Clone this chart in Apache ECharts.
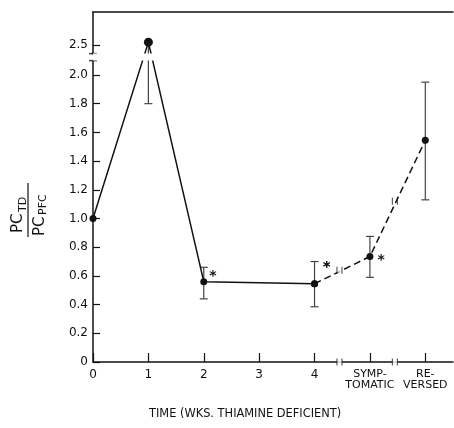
<!DOCTYPE html>
<html>
<head>
<meta charset="utf-8">
<script src="https://cdn.jsdelivr.net/npm/echarts@6/dist/echarts.min.js"></script>
<style>
html, body { margin: 0; padding: 0; background: #fff; }
#chart { width: 454px; height: 428px; }
</style>
</head>
<body>
<div id="chart"></div>
<script>
// time points, weeks thiamine deficient (5 = symptomatic, 6 = reversed)
var weeks = [0, 1, 2, 4, 5, 6];
var ratio = [1.0, 2.52, 0.56, 0.545, 0.735, 1.545];
var errLow = [null, 1.80, 0.44, 0.385, 0.59, 1.13];
var errHigh = [null, 2.52, 0.66, 0.70, 0.875, 1.95];
var starred = [false, false, true, true, true, false];

var xTickValues = [0, 1, 2, 3, 4, 5, 6];
var xTickLabels = ['0', '1', '2', '3', '4', 'SYMP-\nTOMATIC', 'RE-\nVERSED'];
var yTickValues = [0, 0.2, 0.4, 0.6, 0.8, 1.0, 1.2, 1.4, 1.6, 1.8, 2.0, 2.5];
var yBreak = [2.1, 2.44];
var xBreakAt = [4.45, 5.45];
var lineBreakY = [0.64, 1.12];

var ink = '#111';
var font = 'DejaVu Sans';

// where the asterisks sit next to their point
var starOffset = { 2: [-3, -5], 4: [0, -16], 5: [-1, 4] };

function pointData(from, to) {
  var out = [];
  for (var i = from; i <= to; i++) {
    var item = { value: [weeks[i], ratio[i]] };
    if (starred[i]) {
      item.label = {
        show: true, formatter: '*', position: 'right',
        offset: starOffset[weeks[i]], color: ink,
        fontSize: 14, fontWeight: 'bold', fontFamily: font
      };
    }
    if (weeks[i] === 1) item.symbolSize = 9;
    out.push(item);
  }
  return out;
}

var errData = [];
for (var i = 0; i < weeks.length; i++) {
  if (errLow[i] != null) errData.push([weeks[i], errLow[i], errHigh[i], ratio[i]]);
}

var chart = echarts.init(document.getElementById('chart'));
var option = {
  backgroundColor: '#fff',
  animation: false,
  grid: { left: 93, right: 1, top: 12, bottom: 66, containLabel: false },
  xAxis: [{
    type: 'value', min: 0, max: 6.5, interval: 1,
    axisLine: { lineStyle: { color: ink, width: 1.5 } },
    axisTick: { inside: true, length: 9, lineStyle: { color: ink, width: 1.2 }, customValues: xTickValues },
    axisLabel: {
      customValues: xTickValues, margin: 7, color: ink, fontSize: 12, fontFamily: font,
      formatter: function (v) {
        var s = xTickLabels[xTickValues.indexOf(v)];
        return s.indexOf('\n') < 0 ? s : s.split('\n').map(function (p) { return '{w|' + p + '}'; }).join('\n');
      },
      rich: { w: { fontSize: 11, lineHeight: 11, fontFamily: font, color: ink } }
    },
    splitLine: { show: false }
  }, {
    type: 'value', position: 'top', min: 0, max: 6.5,
    axisLine: { show: true, lineStyle: { color: ink, width: 1.5 } },
    axisTick: { show: false }, axisLabel: { show: false }, splitLine: { show: false }
  }],
  yAxis: {
    type: 'value', min: 0, max: 2.73,
    breaks: [{ start: yBreak[0], end: yBreak[1], gap: '2%' }],
    breakArea: {
      show: true, expandOnClick: false, zigzagAmplitude: 0,
      itemStyle: { color: '#fff', opacity: 1, borderWidth: 0 }
    },
    axisLine: { show: true, lineStyle: { color: ink, width: 1.5 } },
    axisTick: { inside: true, length: 7, lineStyle: { color: ink, width: 1.2 }, customValues: yTickValues },
    axisLabel: {
      customValues: yTickValues, margin: 5, color: ink, fontSize: 12, fontFamily: font,
      formatter: function (v) { return v === 0 ? '0' : v.toFixed(1); }
    },
    splitLine: { show: false }
  },
  series: [{
    type: 'custom',
    data: errData,
    z: 3,
    renderItem: function (params, api) {
      var x = api.value(0), lo = api.value(1), hi = api.value(2), v = api.value(3);
      var a = api.coord([x, lo]), b = api.coord([x, hi]);
      var st = { stroke: '#444', lineWidth: 1.2 };
      var kids = [
        { type: 'line', shape: { x1: a[0], y1: a[1], x2: b[0], y2: b[1] }, style: st },
        { type: 'line', shape: { x1: a[0] - 4, y1: a[1], x2: a[0] + 4, y2: a[1] }, style: st }
      ];
      if (hi !== v) kids.push({ type: 'line', shape: { x1: b[0] - 4, y1: b[1], x2: b[0] + 4, y2: b[1] }, style: st });
      return { type: 'group', children: kids };
    }
  }, {
    type: 'line',
    data: pointData(0, 3),
    symbol: 'circle', symbolSize: 7, z: 4,
    lineStyle: { color: ink, width: 1.5 },
    itemStyle: { color: ink }
  }, {
    type: 'line',
    data: pointData(3, 5),
    symbol: 'circle', symbolSize: 7, z: 4,
    lineStyle: { color: ink, width: 1.5, type: [7, 4] },
    itemStyle: { color: ink }
  }, {
    // gaps in the time axis and in the dashed line
    type: 'scatter', z: 5, silent: true,
    data: [[xBreakAt[0], 0], [xBreakAt[1], 0], [xBreakAt[0], lineBreakY[0]]],
    symbol: 'rect', symbolSize: [5, 5],
    itemStyle: { color: '#fff' }
  }, {
    type: 'scatter', z: 6, silent: true,
    data: [[xBreakAt[0], 0], [xBreakAt[1], 0], [xBreakAt[0], lineBreakY[0]], [xBreakAt[1], lineBreakY[1]]],
    symbol: 'path://M0,0H1V10H0Z M5,0H6V10H5Z', symbolSize: [6, 7],
    itemStyle: { color: ink }
  }, {
    // caps where the ratio axis is broken
    type: 'scatter', z: 6, silent: true,
    data: [[0, yBreak[0]], [0, yBreak[1]]],
    symbol: 'rect', symbolSize: [8, 1.5],
    itemStyle: { color: ink }
  }],
  graphic: [{
    type: 'text', left: 149, top: 409,
    style: { text: 'TIME (WKS. THIAMINE DEFICIENT)', fill: ink, font: '11.4px "DejaVu Sans"' }
  }, {
    type: 'group', x: 28, y: 210, rotation: Math.PI / 2,
    children: [
      { type: 'line', shape: { x1: -27, y1: 0, x2: 27, y2: 0 }, style: { stroke: ink, lineWidth: 1.2 } },
      { type: 'text', x: -23, y: -10, style: { text: 'PC', fill: ink, font: '15px "DejaVu Sans"', verticalAlign: 'middle' } },
      { type: 'text', x: -2, y: -5, style: { text: 'TD', fill: ink, font: '11px "DejaVu Sans"', verticalAlign: 'middle' } },
      { type: 'text', x: -26, y: 12, style: { text: 'PC', fill: ink, font: '15px "DejaVu Sans"', verticalAlign: 'middle' } },
      { type: 'text', x: -5, y: 15, style: { text: 'PFC', fill: ink, font: '11px "DejaVu Sans"', verticalAlign: 'middle' } }
    ]
  }]
};
chart.setOption(option);
</script>
</body>
</html>
